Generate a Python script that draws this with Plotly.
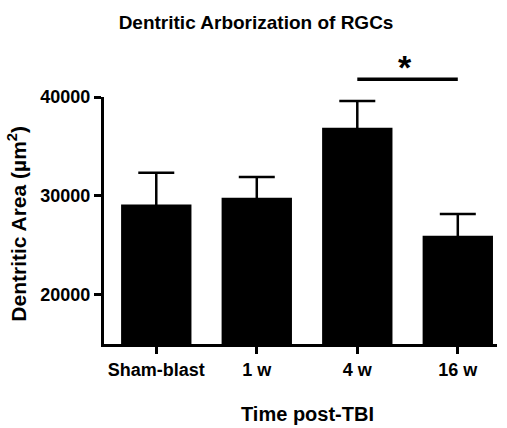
import plotly.graph_objects as go

categories = ["Sham-blast", "1 w", "4 w", "16 w"]
mean_area = [29130, 29800, 36890, 25950]
sem_area = [3200, 2100, 2710, 2200]
y_ticks = [20000, 30000, 40000]
y_range = [15000, 40000]
sig_pair = (2, 3)
sig_y = 41800
sig_label = "*"

FONT = "Arial, Liberation Sans, Helvetica, sans-serif"


def to_paper(v):
    return (v - y_range[0]) / (y_range[1] - y_range[0])


fig = go.Figure()
fig.add_trace(go.Bar(
    x=list(range(len(categories))),
    y=mean_area,
    width=0.7,
    marker=dict(color="black", line=dict(width=0)),
    error_y=dict(type="data", array=sem_area, symmetric=True,
                 color="black", thickness=2.5, width=18),
))

fig.add_shape(type="line", xref="x", yref="paper",
              x0=sig_pair[0], x1=sig_pair[1], y0=to_paper(sig_y), y1=to_paper(sig_y),
              line=dict(color="black", width=3.5))
fig.add_annotation(x=(sig_pair[0] + sig_pair[1]) / 2 - 0.03, y=to_paper(sig_y), xref="x", yref="paper",
                   text="<b>" + sig_label + "</b>", showarrow=False,
                   yanchor="bottom", yshift=-9,
                   font=dict(family=FONT, size=34, color="black"))

fig.add_annotation(xref="paper", yref="paper", x=0.519, y=-0.283,
                   text="Time post-TBI", showarrow=False,
                   xanchor="center", yanchor="middle",
                   font=dict(family=FONT, size=20, color="black", weight="bold"))
fig.add_annotation(xref="paper", yref="paper", x=-0.222, y=0.486,
                   text="Dentritic Area (µm<sup>2</sup>)", showarrow=False,
                   textangle=-90, xanchor="center", yanchor="middle",
                   font=dict(family=FONT, size=21, color="black", weight="bold"))

fig.update_layout(
    width=507, height=428,
    margin=dict(l=104, r=10, t=97, b=84),
    plot_bgcolor="white", paper_bgcolor="white",
    showlegend=False,
    title=dict(text="Dentritic Arborization of RGCs", x=0.505, xanchor="center",
               y=0.948, yanchor="middle",
               font=dict(family=FONT, size=19, color="black", weight="bold")),
    xaxis=dict(tickmode="array", tickvals=list(range(len(categories))), ticktext=categories,
               range=[-0.52, 3.39], showline=True, linecolor="black", linewidth=3,
               ticks="outside", ticklen=7, tickwidth=2.5, tickcolor="black",
               showgrid=False, zeroline=False,
               tickfont=dict(family=FONT, size=18, color="black", weight="bold")),
    yaxis=dict(range=y_range, tickmode="array", tickvals=y_ticks,
               ticktext=[str(v) for v in y_ticks],
               showline=True, linecolor="black", linewidth=3,
               ticks="outside", ticklen=7, tickwidth=2.5, tickcolor="black",
               showgrid=False, zeroline=False,
               tickfont=dict(family=FONT, size=18, color="black", weight="bold")),
)

fig.write_html("out.html")
